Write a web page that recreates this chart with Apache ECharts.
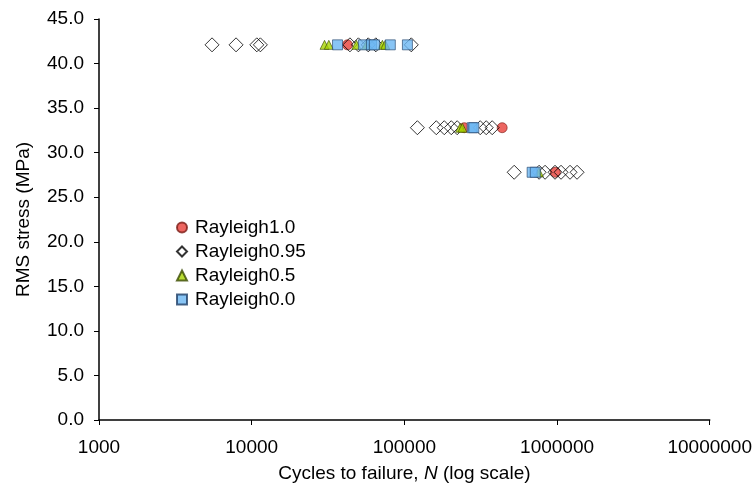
<!DOCTYPE html>
<html><head><meta charset="utf-8">
<script src="https://cdn.jsdelivr.net/npm/echarts@6/dist/echarts.min.js"></script>
<style>html,body{margin:0;padding:0;background:#fff}#c{width:755px;height:488px}</style>
</head><body><div id="c"></div>
<script>
// [cycles N, RMS stress MPa]
const rayleigh10 = [[42400,42.1],[246800,32.8],[437000,32.8],[975000,27.8]];
const rayleigh095 = [[5500,42.1],[7900,42.1],[10800,42.1],[11400,42.1],[44000,42.1],[50000,42.1],[58000,42.1],[65000,42.1],[111000,42.1],
  [121700,32.8],[161800,32.8],[182500,32.8],[202800,32.8],[221800,32.8],[313900,32.8],[343600,32.8],[376000,32.8],
  [523900,27.8],[762900,27.8],[835000,27.8],[970000,27.8],[1062000,27.8],[1216000,27.8],[1352000,27.8]];
const rayleigh05 = [[30000,42.1],[32000,42.1],[48500,42.1],[56400,42.1],[71800,42.1],[75000,42.1],[232000,32.8],[240000,32.8],[760000,27.8]];
const rayleigh00 = [[36500,42.1],[53900,42.1],[60900,42.1],[63700,42.1],[80900,42.1],[104700,42.1],[278000,32.8],[285000,32.8],[686700,27.8],[720000,27.8]];
const seriesNames = ['Rayleigh1.0','Rayleigh0.95','Rayleigh0.5','Rayleigh0.0'];
const yTicks = {min:0,max:45,interval:5};
const xRange = {min:1000,max:10000000};

const font = 'Liberation Sans, Arial, sans-serif';
const fs = 19;
const chart = echarts.init(document.getElementById('c'));
chart.setOption({
  animation:false,
  textStyle:{fontFamily:font},
  grid:{left:99,right:44,top:19,bottom:64,containLabel:false},
  legend:{
    orient:'vertical', left:171, top:213, itemGap:5, itemWidth:10, itemHeight:10,
    textStyle:{fontFamily:font,fontSize:fs,lineHeight:19,color:'#000',padding:[0,0,0,3]},
    data:[
      {name:seriesNames[0],icon:'circle'},
      {name:seriesNames[1],icon:'diamond'},
      {name:seriesNames[2],icon:'triangle'},
      {name:seriesNames[3],icon:'rect'}
    ]
  },
  xAxis:{
    type:'log', logBase:10, min:xRange.min, max:xRange.max,
    name:'{a|Cycles to failure, }{b|N}{a| (log scale)}', nameLocation:'middle', nameGap:44,
    nameTextStyle:{rich:{a:{fontFamily:font,fontSize:fs,color:'#000'},b:{fontFamily:font,fontSize:fs,fontStyle:'italic',color:'#000'}}},
    axisLine:{lineStyle:{color:'#000',width:1.5}},
    axisTick:{show:true,inside:false,length:5,lineStyle:{color:'#000'}},
    minorTick:{show:false},
    splitLine:{show:false},
    axisLabel:{color:'#000',fontSize:fs,fontFamily:font,margin:18,formatter:v=>String(Math.round(v))}
  },
  yAxis:{
    type:'value', min:yTicks.min, max:yTicks.max, interval:yTicks.interval,
    name:'RMS stress (MPa)', nameLocation:'middle', nameGap:66, nameRotate:90,
    nameTextStyle:{fontFamily:font,fontSize:fs,color:'#000'},
    axisLine:{show:true,lineStyle:{color:'#000',width:1.5}},
    axisTick:{show:true,inside:false,length:5,lineStyle:{color:'#000'}},
    splitLine:{show:false},
    axisLabel:{color:'#000',fontSize:fs,fontFamily:font,margin:15,formatter:v=>v.toFixed(1)}
  },
  series:[
    {name:seriesNames[0],type:'scatter',data:rayleigh10,symbol:'circle',symbolSize:10,
      itemStyle:{color:'#E8403A',borderColor:'#7a1a14',borderWidth:0.8}},
    {name:seriesNames[1],type:'scatter',data:rayleigh095,symbol:'diamond',symbolSize:14,
      itemStyle:{color:'rgba(255,255,255,0)',borderColor:'#000',borderWidth:1}},
    {name:seriesNames[2],type:'scatter',data:rayleigh05,symbol:'triangle',symbolSize:9,
      itemStyle:{color:'#A8D400',borderColor:'#3a4a00',borderWidth:0.8}},
    {name:seriesNames[3],type:'scatter',data:rayleigh00,symbol:'rect',symbolSize:10,
      itemStyle:{color:'#6CB6F2',borderColor:'#1f3f66',borderWidth:0.8}}
  ]
});
</script></body></html>
